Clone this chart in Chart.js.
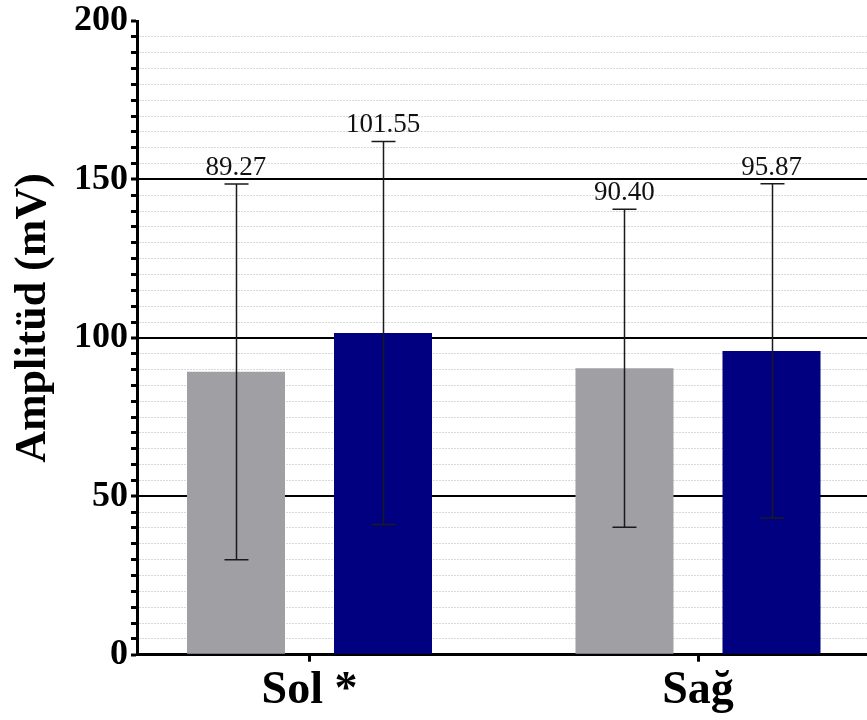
<!DOCTYPE html>
<html>
<head>
<meta charset="utf-8">
<script src="https://cdn.jsdelivr.net/npm/chart.js@4.4.1/dist/chart.umd.min.js"></script>
<style>
  html, body { margin: 0; padding: 0; background: #ffffff; overflow: hidden; }
  #wrap { width: 867px; height: 720px; }
</style>
</head>
<body>
<div id="wrap"><canvas id="c" width="867" height="720"></canvas></div>
<script>
// ---- data ----
const categories = ['Sol *', 'Sağ'];
const grayMeans = [89.27, 90.40];
const navyMeans = [101.55, 95.87];
const graySD = [59.3, 50.15];
const navySD = [60.45, 52.75];
const yAxisTitle = 'Amplitüd (mV)';
const yMajorStep = 50;
const yMinorStep = 5;

const FONT = '"Liberation Serif", "Times New Roman", serif';

const catPos = categories.map((c, i) => i + 1);
const sdByDataset = [graySD, navySD];
const meansByDataset = [grayMeans, navyMeans];

const errorBarPlugin = {
  id: 'errorBars',
  afterDatasetsDraw(chart) {
    const ctx = chart.ctx;
    const yScale = chart.scales.y;
    ctx.save();
    chart.data.datasets.forEach((ds, di) => {
      const meta = chart.getDatasetMeta(di);
      meta.data.forEach((el, j) => {
        const m = meansByDataset[di][j];
        const sd = sdByDataset[di][j];
        const yTop = yScale.getPixelForValue(m + sd);
        const yBot = yScale.getPixelForValue(m - sd);
        const x = Math.round(el.x) + 0.5;
        ctx.strokeStyle = '#1a1a1a';
        ctx.lineWidth = 1.5;
        ctx.beginPath();
        ctx.moveTo(x, yTop); ctx.lineTo(x, yBot);
        ctx.moveTo(x - 12, yTop); ctx.lineTo(x + 12, yTop);
        ctx.moveTo(x - 12, yBot); ctx.lineTo(x + 12, yBot);
        ctx.stroke();
        ctx.fillStyle = '#111';
        ctx.font = '27px ' + FONT;
        ctx.textAlign = 'center';
        ctx.textBaseline = 'alphabetic';
        ctx.fillText(m.toFixed(2), el.x, yTop - 9);
      });
    });
    ctx.restore();
  }
};

const yTitlePlugin = {
  id: 'yTitle',
  afterDraw(chart) {
    const ctx = chart.ctx;
    ctx.save();
    ctx.translate(34, 318);
    ctx.rotate(-Math.PI / 2);
    ctx.fillStyle = '#000';
    ctx.font = 'bold 44px ' + FONT;
    ctx.textAlign = 'center';
    ctx.textBaseline = 'middle';
    ctx.fillText(yAxisTitle, 0, 0);
    ctx.restore();
  }
};

new Chart(document.getElementById('c'), {
  type: 'bar',
  data: {
    datasets: [
      {
        label: 'Grup 1',
        data: catPos.map((x, i) => ({ x: x, y: grayMeans[i] })),
        backgroundColor: '#a09fa4',
        borderWidth: 0
      },
      {
        label: 'Grup 2',
        data: catPos.map((x, i) => ({ x: x, y: navyMeans[i] })),
        backgroundColor: '#000080',
        borderWidth: 0
      }
    ]
  },
  plugins: [errorBarPlugin, yTitlePlugin],
  options: {
    responsive: false,
    animation: false,
    events: [],
    categoryPercentage: 0.7568,
    barPercentage: 0.6667,
    layout: { padding: { top: 20, right: 0, bottom: 0, left: 0 } },
    plugins: { legend: { display: false }, tooltip: { enabled: false } },
    scales: {
      x: {
        type: 'linear',
        offset: false,
        min: 0.556,
        max: 2.435,
        afterBuildTicks(scale) {
          scale.ticks = catPos.map(v => ({ value: v }));
        },
        ticks: {
          autoSkip: false,
          maxRotation: 0,
          padding: 5,
          color: '#000',
          font: { family: FONT, size: 46, weight: 'bold', lineHeight: 1.05 },
          callback: (v) => {
            const idx = catPos.indexOf(v);
            return idx >= 0 ? categories[idx] : '';
          }
        },
        grid: {
          offset: false,
          drawOnChartArea: false,
          drawTicks: true,
          tickLength: 7,
          tickWidth: 3,
          tickColor: '#000'
        },
        border: { display: true, color: '#000', width: 3 }
      },
      y: {
        min: 0,
        max: 200,
        afterFit(scale) { scale.width = 137; },
        ticks: {
          stepSize: yMinorStep,
          autoSkip: false,
          padding: 3,
          color: '#000',
          font: { family: FONT, size: 36, weight: 'bold', lineHeight: 1.0 },
          callback: (v) => (v % yMajorStep === 0 ? String(v) : '')
        },
        grid: {
          color: (c) => {
            const v = c.tick ? c.tick.value : 0;
            if (v === 0 || v === 200) return 'rgba(0,0,0,0)';
            return v % yMajorStep === 0 ? '#000' : '#d9d9d9';
          },
          lineWidth: (c) => {
            const v = c.tick ? c.tick.value : 0;
            return v % yMajorStep === 0 ? 2 : 1;
          },
          drawTicks: true,
          tickLength: 6,
          tickWidth: 3,
          tickColor: '#000'
        },
        border: {
          display: true,
          color: '#000',
          width: 3,
          dash: (c) => {
            const v = c.tick ? c.tick.value : 0;
            return v % yMajorStep === 0 ? [] : [2, 1];
          }
        }
      }
    }
  }
});
</script>
</body>
</html>
